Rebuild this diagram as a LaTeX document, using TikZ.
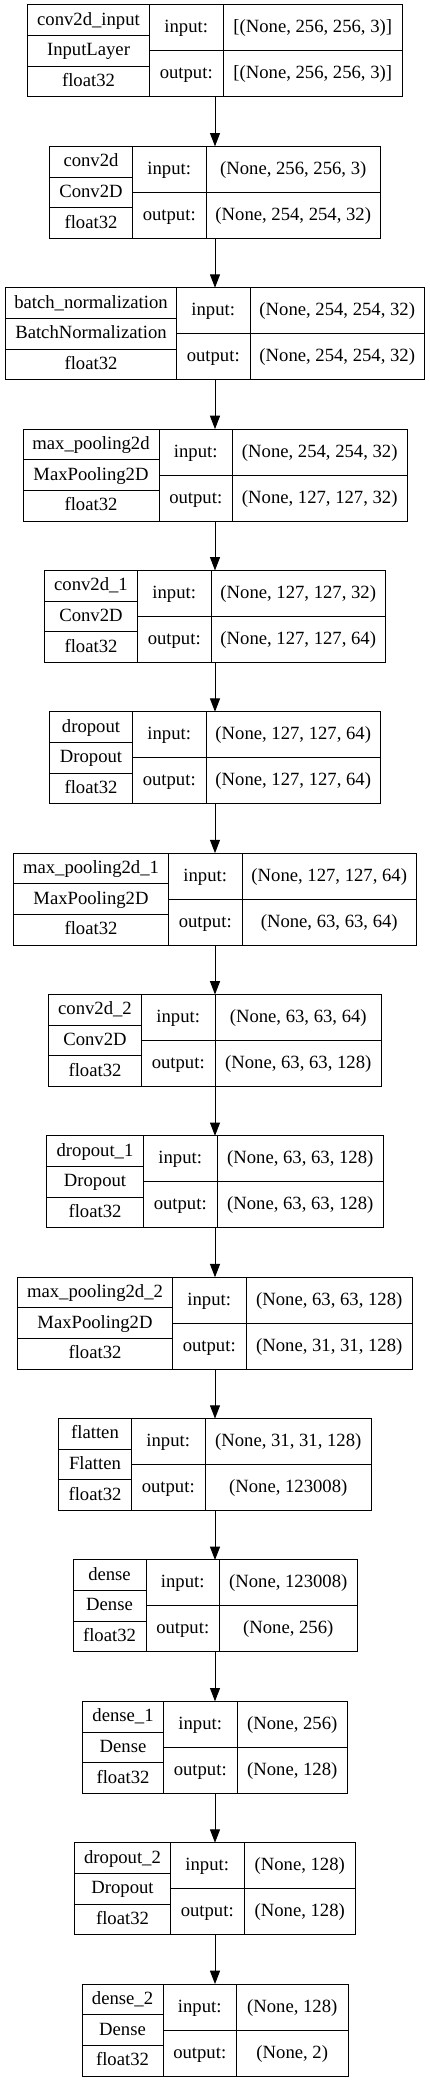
\documentclass[tikz,border=0pt]{standalone}
\usepackage{fontspec}
\setmainfont{Liberation Serif}
\usetikzlibrary{arrows.meta}

% one keras layer record: id, row, width, left width, name, class, input, output
\newcommand{\kerasbox}[8]{%
  \pgfmathsetmacro\yc{51+141.36*#2}%
  \pgfmathsetmacro\xl{215-#3/2}%
  \pgfmathsetmacro\xm{\xl+#4}%
  \pgfmathsetmacro\xr{\xm+73.5}%
  \pgfmathsetmacro\ww{#3*0.75}%
  \pgfmathsetmacro\wa{#4*0.75}%
  \pgfmathsetmacro\wc{(#3-#4-73.5)*0.75}%
  \node[frame, minimum width=\ww pt] (#1) at (215,\yc) {};
  \node[cell, minimum width=\wa pt, minimum height=23pt] (#1-n) at ({\xl+#4/2},{\yc-92/3}) {#5};
  \node[cell, minimum width=\wa pt, minimum height=23pt] (#1-c) at ({\xl+#4/2},\yc) {#6};
  \node[cell, minimum width=\wa pt, minimum height=23pt] (#1-t) at ({\xl+#4/2},{\yc+92/3}) {float32};
  \node[cell, minimum width=55.125pt, minimum height=34.5pt] (#1-il) at ({\xm+36.75},{\yc-23}) {input:};
  \node[cell, minimum width=55.125pt, minimum height=34.5pt] (#1-ol) at ({\xm+36.75},{\yc+23}) {output:};
  \node[cell, minimum width=\wc pt, minimum height=34.5pt] (#1-i) at ({(\xr+215+#3/2)/2},{\yc-23}) {#7};
  \node[cell, minimum width=\wc pt, minimum height=34.5pt] (#1-o) at ({(\xr+215+#3/2)/2},{\yc+23}) {#8};
}

\begin{document}
\begin{tikzpicture}[x=0.75pt, y=-0.75pt]
  \tikzset{frame/.style={draw, line width=0.75pt, minimum height=69pt, inner sep=0pt, outer sep=0pt},
    cell/.style={draw, line width=0.75pt, inner sep=0pt, outer sep=0pt, font=\fontsize{14pt}{16pt}\selectfont,
      text height=10pt, text depth=2.5pt},
    flow/.style={-{Triangle[length=10pt,width=7.5pt]}, line width=0.75pt}}
  \useasboundingbox (0,0) rectangle (429,2083);
  \kerasbox{inp}{0}{375}{122}{conv2d\_input}{InputLayer}{[(None, 256, 256, 3)]}{[(None, 256, 256, 3)]}
  \kerasbox{conv}{1}{331}{83}{conv2d}{Conv2D}{(None, 256, 256, 3)}{(None, 254, 254, 32)}
  \kerasbox{bn}{2}{419}{171}{batch\_normalization}{BatchNormalization}{(None, 254, 254, 32)}{(None, 254, 254, 32)}
  \kerasbox{pool}{3}{384}{136}{max\_pooling2d}{MaxPooling2D}{(None, 254, 254, 32)}{(None, 127, 127, 32)}
  \kerasbox{conva}{4}{341}{93}{conv2d\_1}{Conv2D}{(None, 127, 127, 32)}{(None, 127, 127, 64)}
  \kerasbox{drop}{5}{331}{83}{dropout}{Dropout}{(None, 127, 127, 64)}{(None, 127, 127, 64)}
  \kerasbox{poola}{6}{403}{155}{max\_pooling2d\_1}{MaxPooling2D}{(None, 127, 127, 64)}{(None, 63, 63, 64)}
  \kerasbox{convb}{7}{333}{93}{conv2d\_2}{Conv2D}{(None, 63, 63, 64)}{(None, 63, 63, 128)}
  \kerasbox{dropa}{8}{337}{97}{dropout\_1}{Dropout}{(None, 63, 63, 128)}{(None, 63, 63, 128)}
  \kerasbox{poolb}{9}{395}{155}{max\_pooling2d\_2}{MaxPooling2D}{(None, 63, 63, 128)}{(None, 31, 31, 128)}
  \kerasbox{flat}{10}{313}{73}{flatten}{Flatten}{(None, 31, 31, 128)}{(None, 123008)}
  \kerasbox{dense}{11}{284}{73}{dense}{Dense}{(None, 123008)}{(None, 256)}
  \kerasbox{densea}{12}{265}{81}{dense\_1}{Dense}{(None, 256)}{(None, 128)}
  \kerasbox{dropb}{13}{281}{96}{dropout\_2}{Dropout}{(None, 128)}{(None, 128)}
  \kerasbox{denseb}{14}{266}{81}{dense\_2}{Dense}{(None, 128)}{(None, 2)}
  \foreach \a/\b in {inp/conv, conv/bn, bn/pool, pool/conva, conva/drop, drop/poola, poola/convb,
    convb/dropa, dropa/poolb, poolb/flat, flat/dense, dense/densea, densea/dropb, dropb/denseb}
    \draw[flow] (\a.south) -- (\b.north);
\end{tikzpicture}
\end{document}
